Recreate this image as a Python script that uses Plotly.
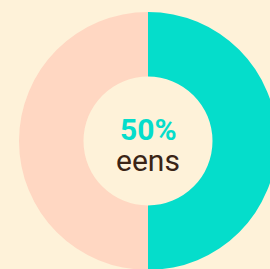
import plotly.graph_objects as go

labels = ["eens", "oneens"]
values = [50, 50]
colors = ["#05DDCB", "#FFD7C2"]
center_value = "50%"
center_label = "eens"

W, H = 280, 274
cx, cy, r = 148, 141, 129

fig = go.Figure(go.Pie(
    labels=labels, values=values, hole=0.5, sort=False, direction="clockwise",
    rotation=0, marker=dict(colors=colors, line=dict(width=0)),
    textinfo="none", hoverinfo="none", showlegend=False,
    domain=dict(x=[(cx - r) / W, (cx + r) / W], y=[1 - (cy + r) / H, 1 - (cy - r) / H]),
))
fig.add_annotation(x=cx / W, y=1 - 129 / H, xref="paper", yref="paper", text=f"<b>{center_value}</b>",
                   showarrow=False, yanchor="middle", xanchor="center",
                   font=dict(family="Roboto", size=30, color="#05DDCB"))
fig.add_annotation(x=cx / W, y=1 - 160 / H, xref="paper", yref="paper", text=center_label,
                   showarrow=False, yanchor="middle", xanchor="center",
                   font=dict(family="Roboto", size=30, color="#3A2416"))
fig.update_layout(width=W, height=H, margin=dict(l=0, r=0, t=0, b=0),
                  paper_bgcolor="#FEF2D9", plot_bgcolor="#FEF2D9")
fig.write_html("out.html", config={"displayModeBar": False},
               post_script="document.body.style.margin='0';document.body.style.overflow='hidden';")
